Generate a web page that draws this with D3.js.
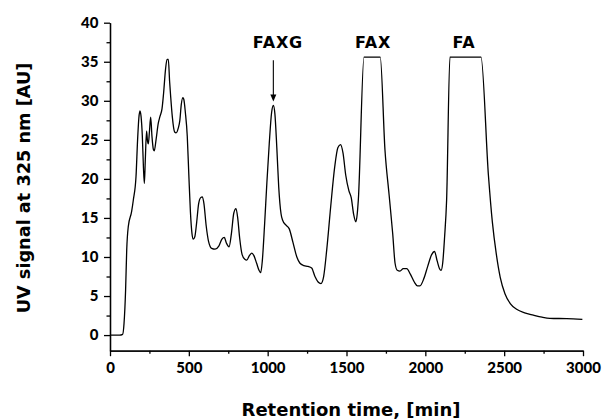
<!DOCTYPE html>
<html>
<head>
<meta charset="utf-8">
<script src="https://cdn.jsdelivr.net/npm/d3@7"></script>
<style>
body { margin: 0; background: #fff; }
svg { display: block; }
.axis path, .axis line { stroke: #000; stroke-width: 1.3; }
.axis text { font-family: Lato, sans-serif; font-weight: 900; font-size: 15px; fill: #000; }
.title { font-family: "DejaVu Sans", sans-serif; font-weight: bold; fill: #000; }
</style>
</head>
<body>
<svg width="604" height="419"></svg>
<script>

/* SECTION: data */

var time = [0, 60, 80, 89, 99, 106, 116, 137, 148, 165, 175, 183, 190, 197, 205, 212, 218, 224, 232, 238,
  243, 250, 258, 266, 275, 281, 292, 306, 317, 330, 340, 352, 362, 370, 378, 385, 395, 410, 419, 433,
  443, 452, 462, 468, 478, 490, 500, 510, 520, 528, 538, 550, 562, 575, 586, 596, 610, 625, 645, 666,
  690, 710, 725, 738, 755, 770, 785, 799, 810, 822, 838, 855, 867, 885, 900, 912, 930, 945, 956, 966,
  980, 995, 1010, 1025, 1036, 1046, 1058, 1070, 1085, 1095, 1115, 1137, 1160, 1185, 1205, 1230, 1255, 1279, 1300, 1320,
  1338, 1355, 1375, 1400, 1425, 1445, 1462, 1478, 1495, 1515, 1530, 1545, 1560, 1568, 1575, 1611, 1714, 1744, 1770, 1793,
  1808, 1822, 1839, 1860, 1882, 1905, 1930, 1950, 1966, 1990, 2015, 2040, 2058, 2075, 2090, 2100, 2110, 2122, 2135, 2156,
  2353, 2400, 2425, 2450, 2475, 2505, 2540, 2579, 2630, 2685, 2740, 2790, 2896, 2996];

var signal = [0, 0, 0.1, 1.5, 5.8, 10.9, 13.9, 15.8, 17.3, 20.3, 25, 27.8, 28.7, 28, 25.5, 21.5, 19.4, 22.5, 26.1, 24.8,
  24.5, 26, 27.9, 25.5, 23.8, 23.6, 25, 27.1, 28, 29, 31, 34, 35.3, 35.3, 32.5, 30.5, 28, 26, 25.9, 26.5,
  27.5, 29.5, 30.4, 30.2, 28.5, 25.5, 20.5, 15.8, 13, 12.3, 12.6, 14.5, 16.8, 17.6, 17.7, 16.8, 14, 12, 11.1, 11,
  11.4, 12.3, 12.5, 11.8, 11.3, 13, 15.6, 16.2, 15, 12.5, 10.3, 9.7, 9.6, 10.2, 10.5, 10.2, 9.2, 8.3, 8, 9.5,
  14, 19.5, 24.5, 28.5, 29.4, 28.3, 24, 19, 15.5, 14.7, 14.1, 13.6, 11.9, 10, 9.2, 8.9, 8.8, 8.6, 7.5, 6.8,
  6.6, 7.5, 11, 16.5, 21.5, 24, 24.4, 23.3, 20.5, 18.5, 17.6, 15.5, 14.5, 15.5, 17.3, 35.6, 35.6, 23.7, 18, 13,
  9.2, 8.3, 8.2, 8.5, 8.5, 7.8, 6.8, 6.3, 6.3, 7.2, 8.8, 10.3, 10.7, 9.5, 8.5, 8.3, 9.2, 12.5, 17.3, 35.6,
  35.6, 20.5, 14.5, 10.4, 7.4, 5.3, 4, 3.3, 2.85, 2.56, 2.3, 2.15, 2.1, 2.0];

var xTicks = [0, 500, 1000, 1500, 2000, 2500, 3000];
var xMinor = [250, 750, 1250, 1750, 2250, 2750];
var yTicks = [0, 5, 10, 15, 20, 25, 30, 35, 40];
var yMinor = [2.5, 7.5, 12.5, 17.5, 22.5, 27.5, 32.5, 37.5];

// peak annotations
var peakNames = ["FAXG", "FAX", "FA"];
var peakNameTime = [1065, 1668, 2245];
var peakNameLevel = 36.7;
var arrowTime = 1036;
var arrowFrom = 35.2;
var arrowTo = 29.9;

/* SECTION: scales and axes */

var svg = d3.select("svg");

var x = d3.scaleLinear().domain([0, 3000]).range([110, 583]);
var y = d3.scaleLinear().domain([-2, 40]).range([350.7, 22.7]);

svg.append("g").attr("class", "axis")
    .attr("transform", "translate(0,350.7)")
    .call(d3.axisBottom(x).tickValues(xMinor).tickSize(3).tickSizeOuter(0).tickFormat(""));
svg.append("g").attr("class", "axis")
    .attr("transform", "translate(0,350.7)")
    .call(d3.axisBottom(x).tickValues(xTicks).tickSize(5.5).tickSizeOuter(0).tickPadding(6).tickFormat(d3.format("d")));

svg.append("g").attr("class", "axis")
    .attr("transform", "translate(110,0)")
    .call(d3.axisLeft(y).tickValues(yMinor).tickSize(3.5).tickSizeOuter(0).tickFormat(""));
svg.append("g").attr("class", "axis")
    .attr("transform", "translate(110,0)")
    .call(d3.axisLeft(y).tickValues(yTicks).tickSize(6).tickSizeOuter(0).tickPadding(5.5).tickFormat(d3.format("d")));

/* SECTION: trace */

var points = time.map(function(t, i) { return [t, signal[i]]; });

var line = d3.line()
    .x(function(d) { return x(d[0]); })
    .y(function(d) { return y(d[1]); })
    .curve(d3.curveMonotoneX);

svg.append("path")
    .datum(points)
    .attr("d", line)
    .attr("fill", "none")
    .attr("stroke", "#000")
    .attr("stroke-width", 1.3);

/* SECTION: labels */

svg.selectAll(".peak").data(peakNames).enter().append("text")
    .attr("class", "title peak")
    .attr("x", function(d, i) { return x(peakNameTime[i]); })
    .attr("y", y(peakNameLevel))
    .attr("text-anchor", "middle")
    .attr("font-size", 16)
    .attr("letter-spacing", 0.8)
    .text(function(d) { return d; });

var ax = x(arrowTime), ay0 = y(arrowFrom), ay1 = y(arrowTo);
svg.append("line")
    .attr("x1", ax).attr("y1", ay0)
    .attr("x2", ax).attr("y2", ay1 - 6)
    .attr("stroke", "#000").attr("stroke-width", 1.1);
svg.append("path")
    .attr("d", "M" + (ax - 3) + "," + (ay1 - 7) + "L" + (ax + 3) + "," + (ay1 - 7) + "L" + ax + "," + ay1 + "Z")
    .attr("fill", "#000");

svg.append("text")
    .attr("class", "title")
    .attr("x", 351)
    .attr("y", 416)
    .attr("text-anchor", "middle")
    .attr("font-size", 18)
    .text("Retention time, [min]");

svg.append("text")
    .attr("class", "title")
    .attr("transform", "translate(30,188) rotate(-90)")
    .attr("text-anchor", "middle")
    .attr("font-size", 17.7)
    .text("UV signal at 325 nm [AU]");

</script>
</body>
</html>
